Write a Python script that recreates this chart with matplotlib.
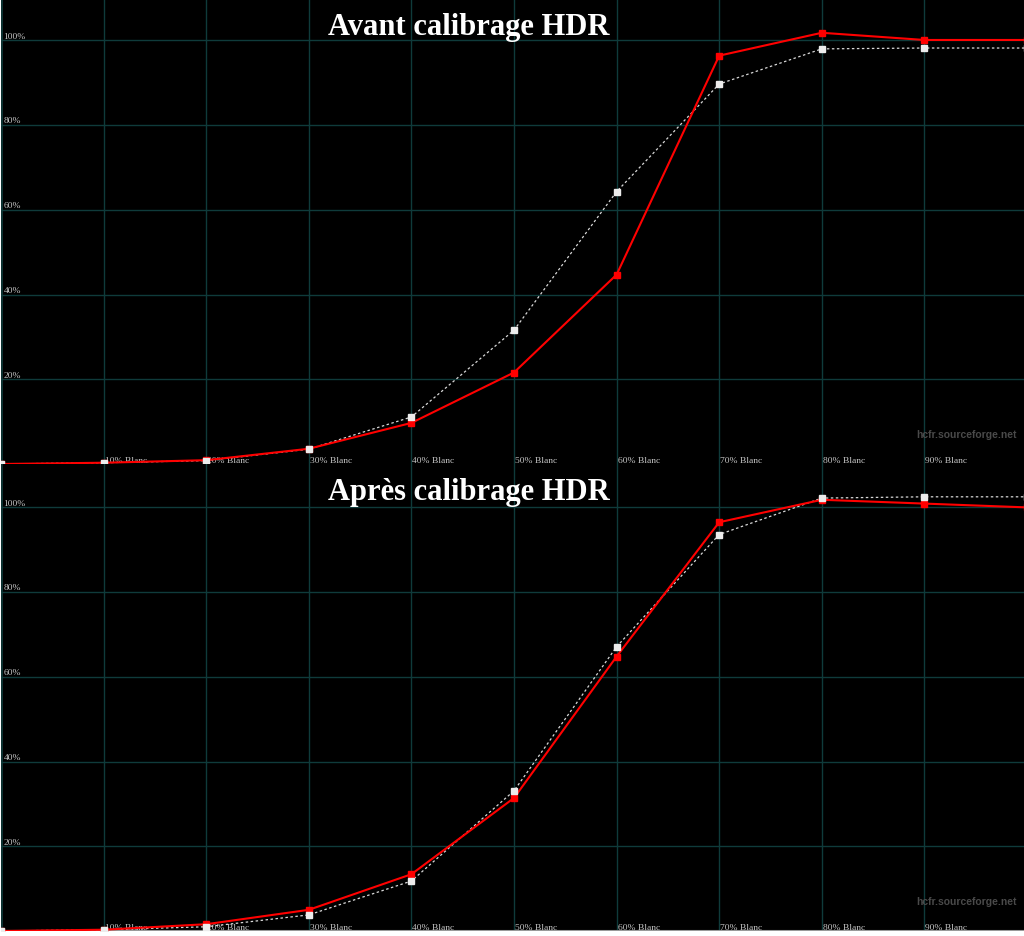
import matplotlib
matplotlib.use("Agg")
import matplotlib.pyplot as plt

# ---------------- DATA ----------------
levels = [0, 10, 20, 30, 40, 50, 60, 70, 80, 90, 100]
x_labels = ["10% Blanc", "20% Blanc", "30% Blanc", "40% Blanc", "50% Blanc",
            "60% Blanc", "70% Blanc", "80% Blanc", "90% Blanc"]
y_ticks = [20, 40, 60, 80, 100]

before_ref = [0, 0.3, 0.8, 3.5, 11.1, 31.6, 64.3, 89.7, 98.0, 98.2, 98.2]
before_meas = [0, 0.3, 0.9, 3.6, 9.7, 21.6, 44.7, 96.4, 101.8, 100.1, 100.1]
after_ref = [0, 0.3, 1.0, 3.8, 11.8, 33.1, 67.1, 93.6, 102.2, 102.5, 102.5]
after_meas = [0, 0.3, 1.6, 5.0, 13.4, 31.4, 64.8, 96.5, 101.8, 100.9, 100.0]

titles = ["Avant calibrage HDR", "Après calibrage HDR"]

# ---------------- STYLE ----------------
W, H = 1024, 937
GRID = "#0f3b3b"
LBL = "#c4c4c4"
SERIF = ["Liberation Serif", "DejaVu Serif"]

fig = plt.figure(figsize=(W / 100, H / 100), dpi=100, facecolor="white")

# panel boxes in pixels: (top, bottom) of each plot area
panels = [(0, 465), (465, 932)]
series = [(before_ref, before_meas), (after_ref, after_meas)]

for (top, bot), (ref, meas), title in zip(panels, series, titles):
    hp = bot - top
    ax = fig.add_axes([1 / W, (H - bot) / H, (W - 1) / W, hp / H])
    ax.set_facecolor("black")
    ax.set_xlim(0, (W - 1) / 10.26)
    ax.set_ylim(0, hp / 4.236)
    ax.set_xticks([]); ax.set_yticks([])
    for s in ax.spines.values():
        s.set_visible(False)

    for v in range(10, 100, 10):
        ax.axvline(v, color=GRID, lw=1, zorder=1)
    ax.axvline(0.05, color=GRID, lw=1.2, zorder=1)
    for v in y_ticks:
        ax.axhline(v, color=GRID, lw=1, zorder=1)
        ax.text(0.25, v + 0.15, f"{v}%", color=LBL, fontsize=6.8,
                family=SERIF, va="bottom", ha="left", zorder=2)
    for v, lab in zip(levels[1:10], x_labels):
        ax.text(v + 0.1, 0.0, lab, color=LBL, fontsize=6.8,
                family=SERIF, va="bottom", ha="left", zorder=2)

    ax.text(0.993, 30 / hp, "hcfr.sourceforge.net", transform=ax.transAxes,
            color="#4a4a4a", fontsize=7.5, fontweight="bold",
            family="Liberation Sans", ha="right", va="center", zorder=2)

    ax.text(0.457, 1 - 28 / hp, title, transform=ax.transAxes, color="white",
            fontsize=22, fontweight="bold", family=SERIF,
            ha="center", va="center", zorder=6)

    # reference (target) curve
    ax.plot(levels, ref, color="#d8d8d8", lw=0.9, ls=(0, (2, 2)), zorder=3)
    # measured curve
    ax.plot(levels, meas, color="#ff0000", lw=1.5, marker="s", ms=5,
            mfc="#ff0000", mec="#ff0000", zorder=4)
    ax.plot(levels, ref, ls="none", marker="s", ms=4.5, mfc="#ececec",
            mec="#ececec", zorder=5)

    if bot == 932:
        ax.axhline(0, color="#9a9a9a", lw=1.5, zorder=2)

fig.savefig("out.png", dpi=100, facecolor=fig.get_facecolor())
